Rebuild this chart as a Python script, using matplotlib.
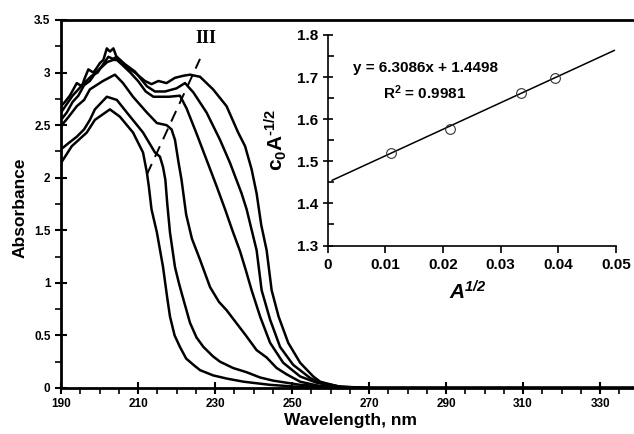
import numpy as np
import matplotlib
matplotlib.use("Agg")
import matplotlib.pyplot as plt
from matplotlib.ticker import MultipleLocator, FormatStrFormatter

plt.rcParams['font.family'] = ['Liberation Sans', 'DejaVu Sans']
plt.rcParams['font.weight'] = 'bold'
plt.rcParams['mathtext.default'] = 'regular'

# absorption spectra, six concentrations (wavelength nm, absorbance)
wl1 = [190, 192.8, 196.7, 198.8, 202.7, 205.3, 208.7, 211.3, 212.3, 212.8, 213.5, 214.9, 216.5, 217.5,
       218.3, 219.5, 220.9, 222.5, 224.4, 226.1, 229.5, 233, 237.4, 244.3, 252, 262, 339]
a1 = [2.14, 2.30, 2.43, 2.55, 2.65, 2.58, 2.43, 2.24, 2.05, 1.92, 1.7, 1.48, 1.15, 0.88,
      0.68, 0.5, 0.39, 0.28, 0.22, 0.17, 0.12, 0.09, 0.06, 0.03, 0.01, 0, 0]

wl2 = [190, 192, 194.1, 196, 197.5, 198.8, 201.9, 204.5, 207.1, 211.3, 214.4, 215.7, 216.5, 217.1,
       217.6, 218.3, 219.6, 220.6, 221.5, 223.5, 225.2, 227, 229.5, 231.3, 234.7, 238.2, 241.7,
       245.1, 252.1, 260, 270, 339]
a2 = [2.27, 2.33, 2.39, 2.46, 2.55, 2.65, 2.77, 2.74, 2.62, 2.43, 2.24, 2.20, 2.1, 1.98,
      1.75, 1.48, 1.15, 1.0, 0.88, 0.62, 0.48, 0.39, 0.30, 0.25, 0.19, 0.15, 0.10,
      0.07, 0.03, 0.01, 0, 0]

wl3 = [190, 192, 194.1, 196, 197.5, 200.9, 204, 206.1, 208.7, 212.3, 214.9, 217.4, 218.7, 219.6,
       220.5, 221.3, 222.5, 224, 226.1, 228.7, 231, 233, 235.5, 238, 240.8, 243.4, 246, 248.6,
       252.1, 257, 265, 339]
a3 = [2.49, 2.58, 2.68, 2.74, 2.84, 2.92, 2.98, 2.9, 2.77, 2.62, 2.52, 2.50, 2.46, 2.36,
      2.15, 1.98, 1.65, 1.42, 1.22, 0.96, 0.82, 0.74, 0.62, 0.50, 0.36, 0.29, 0.19, 0.13,
      0.06, 0.02, 0, 0]

wl4 = [190, 191.5, 193, 194.5, 196, 197.5, 199, 200.5, 202, 203.5, 204.5, 206, 208, 210, 212, 214,
       216, 218, 220.9, 222.6, 225.2, 227.8, 230.4, 232.6, 234.5, 236.5, 238, 239.5, 241.7, 244.3,
       247.7, 252.1, 256.4, 262, 270, 339]
a4 = [2.55, 2.62, 2.72, 2.78, 2.88, 2.92, 3.0, 3.05, 3.1, 3.12, 3.12, 3.07, 3.0, 2.92, 2.82, 2.77,
      2.77, 2.77, 2.78, 2.66, 2.42, 2.17, 1.92, 1.70, 1.50, 1.30, 1.12, 0.93, 0.68, 0.43,
      0.24, 0.11, 0.05, 0.01, 0, 0]

wl5 = [190, 191.5, 193, 194.5, 196, 198, 199.5, 200.6, 202.3, 203.5, 204.5, 206.6, 209.2, 212.3,
       214.4, 217, 220, 222.2, 224.4, 227.8, 231.3, 233.9, 236.9, 238.2, 240.8, 242.1, 244.3,
       246.9, 250.3, 254.7, 257.3, 263, 270, 339]
a5 = [2.62, 2.70, 2.78, 2.84, 2.9, 2.97, 3.0, 3.06, 3.15, 3.13, 3.15, 3.08, 3.01, 2.87,
      2.82, 2.82, 2.85, 2.90, 2.81, 2.62, 2.36, 2.14, 1.85, 1.70, 1.31, 0.93, 0.65,
      0.39, 0.22, 0.095, 0.05, 0.01, 0, 0]

wl6 = [190, 191, 192.3, 193.2, 194.1, 195.4, 196.2, 197.1, 198.4, 199.2, 200.1, 201, 201.9, 202.7,
       203.6, 204.5, 206.6, 209.2, 211.8, 213.5, 215.3, 217.4, 219.6, 221.8, 223.5, 226.1, 229.5,
       233, 236, 237.8, 239.5, 240.8, 242, 243.4, 244.7, 246.5, 249, 252.1, 255.5, 257.3, 262, 270, 339]
a6 = [2.68, 2.72, 2.78, 2.84, 2.9, 2.87, 2.95, 3.03, 3.0, 3.04, 3.09, 3.12, 3.23, 3.2,
      3.23, 3.14, 3.06, 3.0, 2.92, 2.89, 2.92, 2.90, 2.95, 2.97, 2.98, 2.96, 2.84,
      2.68, 2.43, 2.30, 2.08, 1.85, 1.55, 1.31, 0.93, 0.68, 0.43, 0.24, 0.11, 0.06, 0.015, 0, 0]

spectra = [(wl1, a1), (wl2, a2), (wl3, a3), (wl4, a4), (wl5, a5), (wl6, a6)]

# dashed guide through the shoulders
dash_x = [212.3, 226.1]
dash_y = [2.03, 3.13]

wl_ticks = [190, 210, 230, 250, 270, 290, 310, 330]

# inset: c0*A^-1/2 vs A^1/2
sqrtA = [0.011, 0.0212, 0.0335, 0.0395]
c0A = [1.520, 1.577, 1.662, 1.697]
slope, intercept = 6.3086, 1.4498
fit_x = [0.0008, 0.0497]

fig = plt.figure(figsize=(6.34, 4.34), dpi=100)
ax = fig.add_axes([61/634, 46/434, 573/634, 368/434])

for wl, a in spectra:
    ax.plot(wl, a, color='black', lw=1.8, solid_joinstyle='round')
ax.plot(dash_x, dash_y, color='black', lw=1.4, dashes=(6, 4))
ax.text(227.7, 3.32, 'III', family='Liberation Serif', fontweight='bold', fontsize=13,
        ha='center', va='center')

ax.set_xlim(190, 338.8)
ax.set_ylim(0, 3.5)
ax.set_xticks(wl_ticks)
ax.xaxis.set_minor_locator(MultipleLocator(5))
ax.yaxis.set_major_locator(MultipleLocator(0.5))
ax.yaxis.set_minor_locator(MultipleLocator(0.25))
ax.yaxis.set_major_formatter(plt.FuncFormatter(lambda v, p: f'{v:g}'))
ax.tick_params(which='major', direction='inout', length=9, width=1.5, labelsize=8.5, pad=3)
ax.tick_params(which='minor', direction='out', length=4, width=1.2)
ax.spines['right'].set_visible(False)
for s in ['left', 'bottom', 'top']:
    ax.spines[s].set_linewidth(2)
ax.set_xlabel('Wavelength, nm', fontsize=12.5, fontweight='bold')
ax.set_ylabel('Absorbance', fontsize=12.5, fontweight='bold')
ax.xaxis.set_label_coords(0.506, -0.068)
ax.yaxis.set_label_coords(-0.058, 0.49)

ins = fig.add_axes([327.5/634, (434-245.5)/434, (616-327.5)/634, (245.5-35)/434])
ins.set_facecolor('white')
ins.plot(fit_x, [slope*x + intercept for x in fit_x], color='black', lw=1.1)
ins.plot(sqrtA, c0A, 'o', mfc='none', mec='#333333', ms=7, mew=0.8)
ins.set_xlim(0, 0.05)
ins.set_ylim(1.3, 1.8)
ins.xaxis.set_major_locator(MultipleLocator(0.01))
ins.xaxis.set_major_formatter(plt.FuncFormatter(lambda v, p: f'{v:g}'))
ins.yaxis.set_major_locator(MultipleLocator(0.1))
ins.yaxis.set_minor_locator(MultipleLocator(0.05))
ins.yaxis.set_major_formatter(FormatStrFormatter('%.1f'))
ins.spines['top'].set_visible(False)
ins.spines['right'].set_visible(False)
for s in ['left', 'bottom']:
    ins.spines[s].set_linewidth(1.2)
ins.tick_params(axis='x', which='major', direction='out', length=5, width=1.2, labelsize=11, pad=4)
ins.tick_params(axis='y', which='major', direction='inout', length=7, width=1.2, labelsize=11, pad=3)
ins.tick_params(axis='y', which='minor', direction='in', length=4, width=1.2)
ins.text(0.338, 0.845, 'y = 6.3086x + 1.4498', transform=ins.transAxes, fontsize=11,
         fontweight='bold', ha='center', va='center')
ins.text(0.338, 0.726, 'R$^2$ = 0.9981', transform=ins.transAxes, fontsize=11,
         fontweight='bold', ha='center', va='center')
ins.set_xlabel('A$^{1/2}$', fontsize=15, fontweight='bold', fontstyle='italic')
ins.set_ylabel('c$_0$A$^{\u20101/2}$', fontsize=15, fontweight='bold')
ins.xaxis.set_label_coords(0.487, -0.165)
ins.yaxis.set_label_coords(-0.135, 0.5)

fig.savefig('out.png', dpi=100)
